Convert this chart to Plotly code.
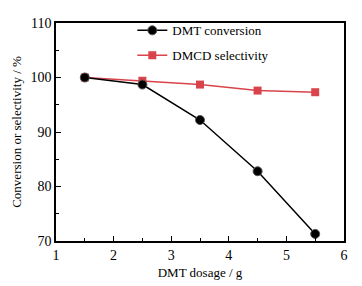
import plotly.graph_objects as go

dosage = [1.5, 2.5, 3.5, 4.5, 5.5]
dmt_conversion = [100.0, 98.7, 92.2, 82.8, 71.3]
dmcd_selectivity = [100.0, 99.4, 98.7, 97.6, 97.3]

font_family = "Liberation Serif"

fig = go.Figure()
fig.add_trace(go.Scatter(
    x=dosage, y=dmcd_selectivity, mode="lines+markers", name="DMCD selectivity",
    line=dict(color="#d9434b", width=1.5),
    marker=dict(symbol="square", size=8, color="#d9434b"),
    legendgroup="b", legendrank=2,
))
fig.add_trace(go.Scatter(
    x=dosage, y=dmt_conversion, mode="lines+markers", name="DMT conversion",
    line=dict(color="black", width=1.5),
    marker=dict(symbol="circle", size=9, color="black", line=dict(color="#555", width=1)),
    legendgroup="a", legendrank=1,
))

axis_common = dict(
    showline=True, linecolor="black", linewidth=1.5, mirror=True,
    ticks="inside", ticklen=5, tickwidth=1.2, tickcolor="black",
    showgrid=False, zeroline=False,
    tickfont=dict(family=font_family, size=14, color="black"),
    title_font=dict(family=font_family, size=13, color="black"),
)

fig.update_xaxes(
    range=[1, 6], dtick=1, tick0=1,
    minor=dict(ticks="inside", ticklen=3, dtick=0.5, tick0=1, tickcolor="black"),
    title_text="DMT dosage / g", title_standoff=6,
    **axis_common,
)
fig.update_yaxes(
    range=[70, 110], dtick=10, tick0=70,
    minor=dict(ticks="inside", ticklen=3, dtick=5, tick0=70, tickcolor="black"),
    title_text="Conversion or selectivity / %", title_standoff=6,
    **axis_common,
)

# page body has an 8px default margin, so the figure is shrunk to fit the window
fig.update_layout(
    width=354, height=278,
    margin=dict(l=45, r=18, t=7, b=45),
    plot_bgcolor="white", paper_bgcolor="white",
    font=dict(family=font_family, size=13, color="black"),
    legend=dict(
        x=0.265, y=1.035, xanchor="left", yanchor="top",
        bgcolor="rgba(0,0,0,0)", traceorder="grouped", tracegroupgap=5,
        font=dict(family=font_family, size=13, color="black"),
    ),
)

fig.write_html("out.html")
